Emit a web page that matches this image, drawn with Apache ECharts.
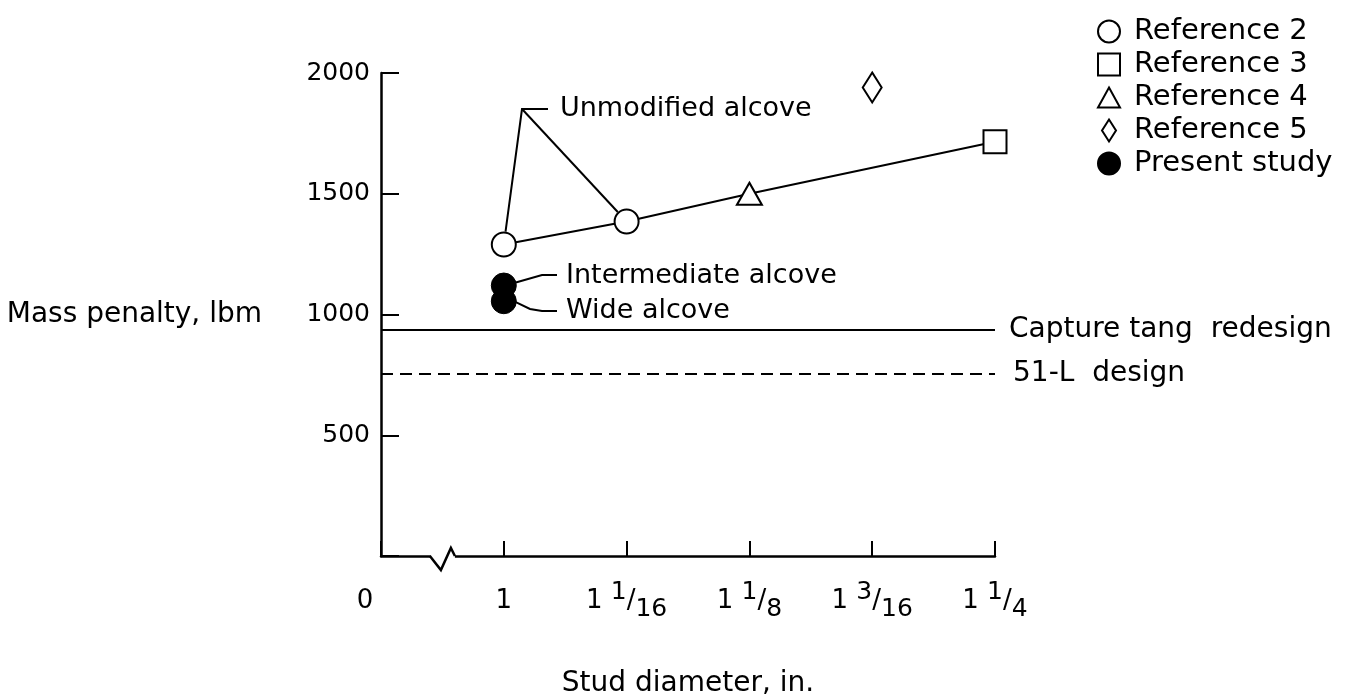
<!DOCTYPE html>
<html><head><meta charset="utf-8">
<script src="https://cdn.jsdelivr.net/npm/echarts@6/dist/echarts.min.js"></script>
<style>html,body{margin:0;padding:0;background:#fff}#c{width:1346px;height:696px}</style>
</head><body><div id="c"></div>
<script>
// ---- data ----
const xTicks = [0.9375, 1, 1.0625, 1.125, 1.1875, 1.25];
const xTickLabels = ['0', '1', '1 1/16', '1 1/8', '1 3/16', '1 1/4'];
const yTicks = [500, 1000, 1500, 2000];
const ref2X = [1, 1.0625];      const ref2Y = [1290, 1385];
const ref3X = [1.25];           const ref3Y = [1715];
const ref4X = [1.125];          const ref4Y = [1500];
const ref5X = [1.1875];         const ref5Y = [1940];
const presentX = [1, 1];        const presentY = [1120, 1055];
const trendX = [1, 1.0625, 1.125, 1.25];
const trendY = [1290, 1385, 1500, 1715];
const captureTang = 935;
const design51L = 755;
const axisBreakAt = 0.969;
const seriesNames = ['Reference 2', 'Reference 3', 'Reference 4', 'Reference 5', 'Present study'];
const annotations = ['Unmodified alcove', 'Intermediate alcove', 'Wide alcove'];
const lineLabels = ['Capture tang  redesign', '51-L  design'];

const FONT = 'DejaVu Sans';
const pair = (xs, ys) => xs.map((x, i) => [x, ys[i]]);

function xLabel(v) {
  const i = xTicks.findIndex(t => Math.abs(t - v) < 1e-6);
  if (i < 0) return '';
  const lab = xTickLabels[i];
  if (lab === '0') return '{z|0}';
  const parts = lab.split(' ');
  if (parts.length === 1) return '{m|' + lab + '}';
  const fr = parts[1].split('/');
  return '{m|' + parts[0] + ' }{n|' + fr[0] + '}{m|/}{d|' + fr[1] + '}';
}

const chart = echarts.init(document.getElementById('c'), null, {renderer: 'canvas'});
const markerStyle = {color: '#fff', borderColor: '#000', borderWidth: 2, opacity: 1};

chart.setOption({
  animation: false,
  backgroundColor: '#fff',
  textStyle: {fontFamily: FONT, color: '#000'},
  grid: {left: 381, right: 351, top: 73, bottom: 140, containLabel: false, outerBoundsMode: 'none'},
  legend: {
    orient: 'vertical', left: 1092, top: 12, itemWidth: 22, itemHeight: 22, itemGap: 4,
    textStyle: {fontFamily: FONT, fontSize: 29, color: '#000', padding: [0, 0, 0, 9]},
    itemStyle: {borderWidth: 2, borderColor: '#000'},
    data: [
      {name: seriesNames[0], icon: 'circle'},
      {name: seriesNames[1], icon: 'path://M0,0 L20,0 L20,20 L0,20 Z'},
      {name: seriesNames[2], icon: 'path://M11,0 L22,20 L0,20 Z'},
      {name: seriesNames[3], icon: 'path://M7,0 L14,11 L7,22 L0,11 Z'},
      {name: seriesNames[4], icon: 'circle'}
    ]
  },
  xAxis: {
    type: 'value', min: xTicks[0], max: xTicks[xTicks.length - 1], interval: 0.0625,
    name: 'Stud diameter, in.', nameLocation: 'middle', nameGap: 114,
    nameTextStyle: {fontFamily: FONT, fontSize: 28, color: '#000'},
    axisLine: {show: true, lineStyle: {color: '#000', width: 2.5}},
    axisTick: {show: true, inside: true, length: 15, lineStyle: {color: '#000', width: 2}},
    splitLine: {show: false},
    axisLabel: {
      margin: 24, color: '#000', formatter: xLabel,
      rich: {
        m: {fontFamily: FONT, fontSize: 26, lineHeight: 42, verticalAlign: 'middle', color: '#000'},
        n: {fontFamily: FONT, fontSize: 25, lineHeight: 25, verticalAlign: 'top', color: '#000'},
        d: {fontFamily: FONT, fontSize: 25, lineHeight: 25, verticalAlign: 'bottom', color: '#000'},
        z: {fontFamily: FONT, fontSize: 26, lineHeight: 42, verticalAlign: 'middle', color: '#000', padding: [0, 32, 0, 0]}
      }
    }
  },
  yAxis: {
    type: 'value', min: 0, max: yTicks[yTicks.length - 1], interval: 500,
    name: 'Mass penalty, lbm', nameLocation: 'middle', nameRotate: 0, nameGap: 119,
    nameTextStyle: {fontFamily: FONT, fontSize: 28, color: '#000'},
    axisLine: {show: true, lineStyle: {color: '#000', width: 2.5}},
    axisTick: {show: true, inside: true, length: 18, lineStyle: {color: '#000', width: 2}},
    splitLine: {show: false},
    axisLabel: {margin: 11, fontFamily: FONT, fontSize: 25, color: '#000',
      formatter: v => (yTicks.indexOf(v) >= 0 ? String(v) : '')}
  },
  series: [
    {type: 'line', name: 'trend', data: pair(trendX, trendY), symbol: 'none', z: 2,
     lineStyle: {color: '#000', width: 2}, silent: true,
     markLine: {
       silent: true, symbol: 'none', animation: false,
       data: [
         {yAxis: captureTang, lineStyle: {type: 'solid', color: '#000', width: 2},
          label: {formatter: lineLabels[0], distance: 14}},
         {yAxis: design51L, lineStyle: {type: [12, 7], color: '#000', width: 2},
          label: {formatter: lineLabels[1], distance: 18}}
       ],
       label: {show: true, position: 'end', fontFamily: FONT, fontSize: 28, color: '#000'}
     }},
    {type: 'scatter', name: seriesNames[0], data: pair(ref2X, ref2Y), symbol: 'circle', symbolSize: 24, z: 4, itemStyle: markerStyle},
    {type: 'scatter', name: seriesNames[1], data: pair(ref3X, ref3Y), symbol: 'rect', symbolSize: 23, z: 4, itemStyle: markerStyle},
    {type: 'scatter', name: seriesNames[2], data: pair(ref4X, ref4Y), symbol: 'triangle', symbolSize: [25, 22], z: 4, itemStyle: markerStyle},
    {type: 'scatter', name: seriesNames[3], data: pair(ref5X, ref5Y), symbol: 'diamond', symbolSize: [19, 30], z: 4, itemStyle: markerStyle},
    {type: 'scatter', name: seriesNames[4], data: pair(presentX, presentY), symbol: 'circle', symbolSize: 25, z: 4,
     itemStyle: {color: '#000', borderColor: '#000', borderWidth: 1, opacity: 1}},
    {type: 'custom', name: 'break', data: [[axisBreakAt, 0]], silent: true, z: 6, clip: false,
     renderItem: function (params, api) {
       const p = api.coord([api.value(0), api.value(1)]);
       return {type: 'group', children: [
         {type: 'rect', shape: {x: p[0] - 12, y: p[1] - 3, width: 24, height: 6}, style: {fill: '#fff'}},
         {type: 'polyline', shape: {points: [[p[0] - 13, p[1]], [p[0] - 2, p[1] + 14], [p[0] + 8, p[1] - 8], [p[0] + 12, p[1]]]},
          style: {stroke: '#000', lineWidth: 2.5, fill: null}}
       ]};
     }}
  ]
});

// ---- annotations (leader lines ending at the library-computed marker positions) ----
const toPx = (x, y) => chart.convertToPixel({gridIndex: 0}, [x, y]);
const c1 = toPx(ref2X[0], ref2Y[0]);
const c2 = toPx(ref2X[1], ref2Y[1]);
const f1 = toPx(presentX[0], presentY[0]);
const f2 = toPx(presentX[1], presentY[1]);
const R = 13;
function edge(c, target) {
  const dx = target[0] - c[0], dy = target[1] - c[1];
  const L = Math.hypot(dx, dy);
  return [c[0] + dx / L * R, c[1] + dy / L * R];
}
const apex = [522, 109];
const e1 = edge(c1, apex), e2 = edge(c2, apex);
const iA = [f1[0] + 12, f1[1] - 3], wA = [f2[0] + 12, f2[1] + 1];
const lineStyle = {stroke: '#000', lineWidth: 2, fill: null};
const txt = (t, x, y) => ({type: 'text', x: x, y: y, silent: true,
  style: {text: t, fontFamily: FONT, fontSize: 27, fill: '#000', verticalAlign: 'middle', align: 'left'}});
chart.setOption({
  graphic: [
    {type: 'polyline', silent: true, shape: {points: [e1, apex, [548, 109]]}, style: lineStyle},
    {type: 'line', silent: true, shape: {x1: apex[0], y1: apex[1], x2: e2[0], y2: e2[1]}, style: lineStyle},
    txt(annotations[0], 560, 109),
    {type: 'polyline', silent: true, shape: {points: [iA, [542, 275], [557, 275]]}, style: lineStyle},
    txt(annotations[1], 566, 276),
    {type: 'polyline', silent: true, shape: {points: [wA, [530, 309], [542, 311], [557, 311]]}, style: lineStyle},
    txt(annotations[2], 566, 311)
  ]
});
</script>
</body></html>
